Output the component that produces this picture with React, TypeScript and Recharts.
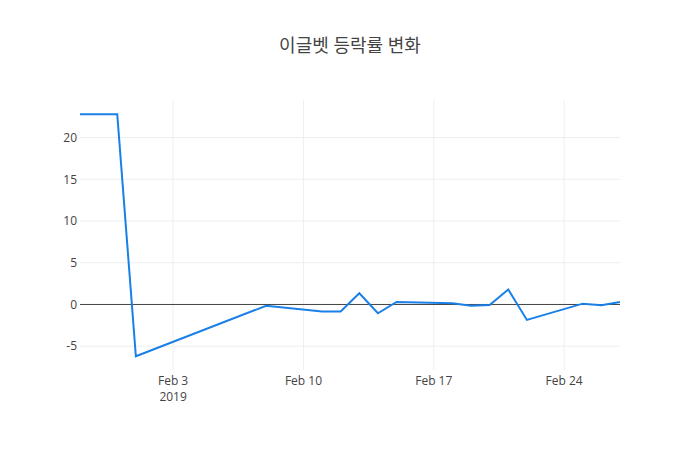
import { Line, LineChart, ReferenceLine, XAxis, YAxis } from 'recharts'

// trading days shown on the chart (Seollal holiday gap after Feb 1)
const dates = [
  '2019-01-29', '2019-01-30', '2019-01-31', '2019-02-01', '2019-02-08',
  '2019-02-11', '2019-02-12', '2019-02-13', '2019-02-14', '2019-02-15',
  '2019-02-18', '2019-02-19', '2019-02-20', '2019-02-21', '2019-02-22',
  '2019-02-25', '2019-02-26', '2019-02-27',
]

// 등락률 (%)
const changes = [
  22.8, 22.8, 22.8, -6.2, -0.15,
  -0.85, -0.85, 1.35, -1.05, 0.3,
  0.15, -0.15, -0.05, 1.8, -1.85,
  0.1, -0.1, 0.3,
]

const xTicks = ['2019-02-03', '2019-02-10', '2019-02-17', '2019-02-24']
const yTicks = [-5, 0, 5, 10, 15, 20]

const MONTHS = ['Jan', 'Feb', 'Mar', 'Apr', 'May', 'Jun', 'Jul', 'Aug', 'Sep', 'Oct', 'Nov', 'Dec']

function toTime(d: string): number {
  return new Date(d + 'T00:00:00Z').getTime()
}

const rows = dates.map((d, i) => ({ t: toTime(d), value: changes[i] }))

const FONT = '"Open Sans", "Noto Sans CJK KR", sans-serif'

function DateTick(props: any) {
  const { x, y, payload, index } = props
  const d = new Date(payload.value)
  const label = `${MONTHS[d.getUTCMonth()]} ${d.getUTCDate()}`
  return (
    <g>
      <text x={x} y={y + 13} textAnchor="middle" fill="#444" fontSize={12} fontFamily={FONT}>
        {label}
      </text>
      {index === 0 && (
        <text x={x} y={y + 29} textAnchor="middle" fill="#444" fontSize={12} fontFamily={FONT}>
          {d.getUTCFullYear()}
        </text>
      )}
    </g>
  )
}

export default function App() {
  return (
    <div style={{ position: 'relative', width: 700, height: 450, background: '#fff' }}>
      <style>{'body{margin:0}'}</style>
      <div
        style={{
          position: 'absolute',
          top: 33,
          left: 0,
          width: 700,
          textAlign: 'center',
          fontFamily: FONT,
          fontSize: 18,
          color: '#444',
          lineHeight: '24px',
        }}
      >
        이글벳 등락률 변화
      </div>
      <LineChart width={700} height={450} data={rows} margin={{ top: 100, right: 80, bottom: 50, left: 40 }}>
        <XAxis
          dataKey="t"
          type="number"
          scale="time"
          domain={[toTime('2019-01-29'), toTime('2019-02-27')]}
          ticks={xTicks.map(toTime)}
          tick={<DateTick />}
          axisLine={false}
          tickLine={false}
          tickSize={0}
          height={30}
          interval={0}
        />
        <YAxis
          type="number"
          domain={[-7.85, 24.5]}
          ticks={yTicks}
          axisLine={false}
          tickLine={false}
          tickSize={0}
          tickMargin={3}
          width={40}
          tick={{ fontSize: 12, fill: '#444', fontFamily: FONT }}
          interval={0}
        />
        {xTicks.map((d) => (
          <ReferenceLine key={d} x={toTime(d)} stroke="#eee" strokeWidth={1} />
        ))}
        {yTicks
          .filter((v) => v !== 0)
          .map((v) => (
            <ReferenceLine key={v} y={v} stroke="#eee" strokeWidth={1} />
          ))}
        <ReferenceLine y={0} stroke="#444" strokeWidth={1} />
        <Line
          type="linear"
          dataKey="value"
          stroke="#1a80e8"
          strokeWidth={2}
          dot={false}
          activeDot={false}
          isAnimationActive={false}
        />
      </LineChart>
    </div>
  )
}
